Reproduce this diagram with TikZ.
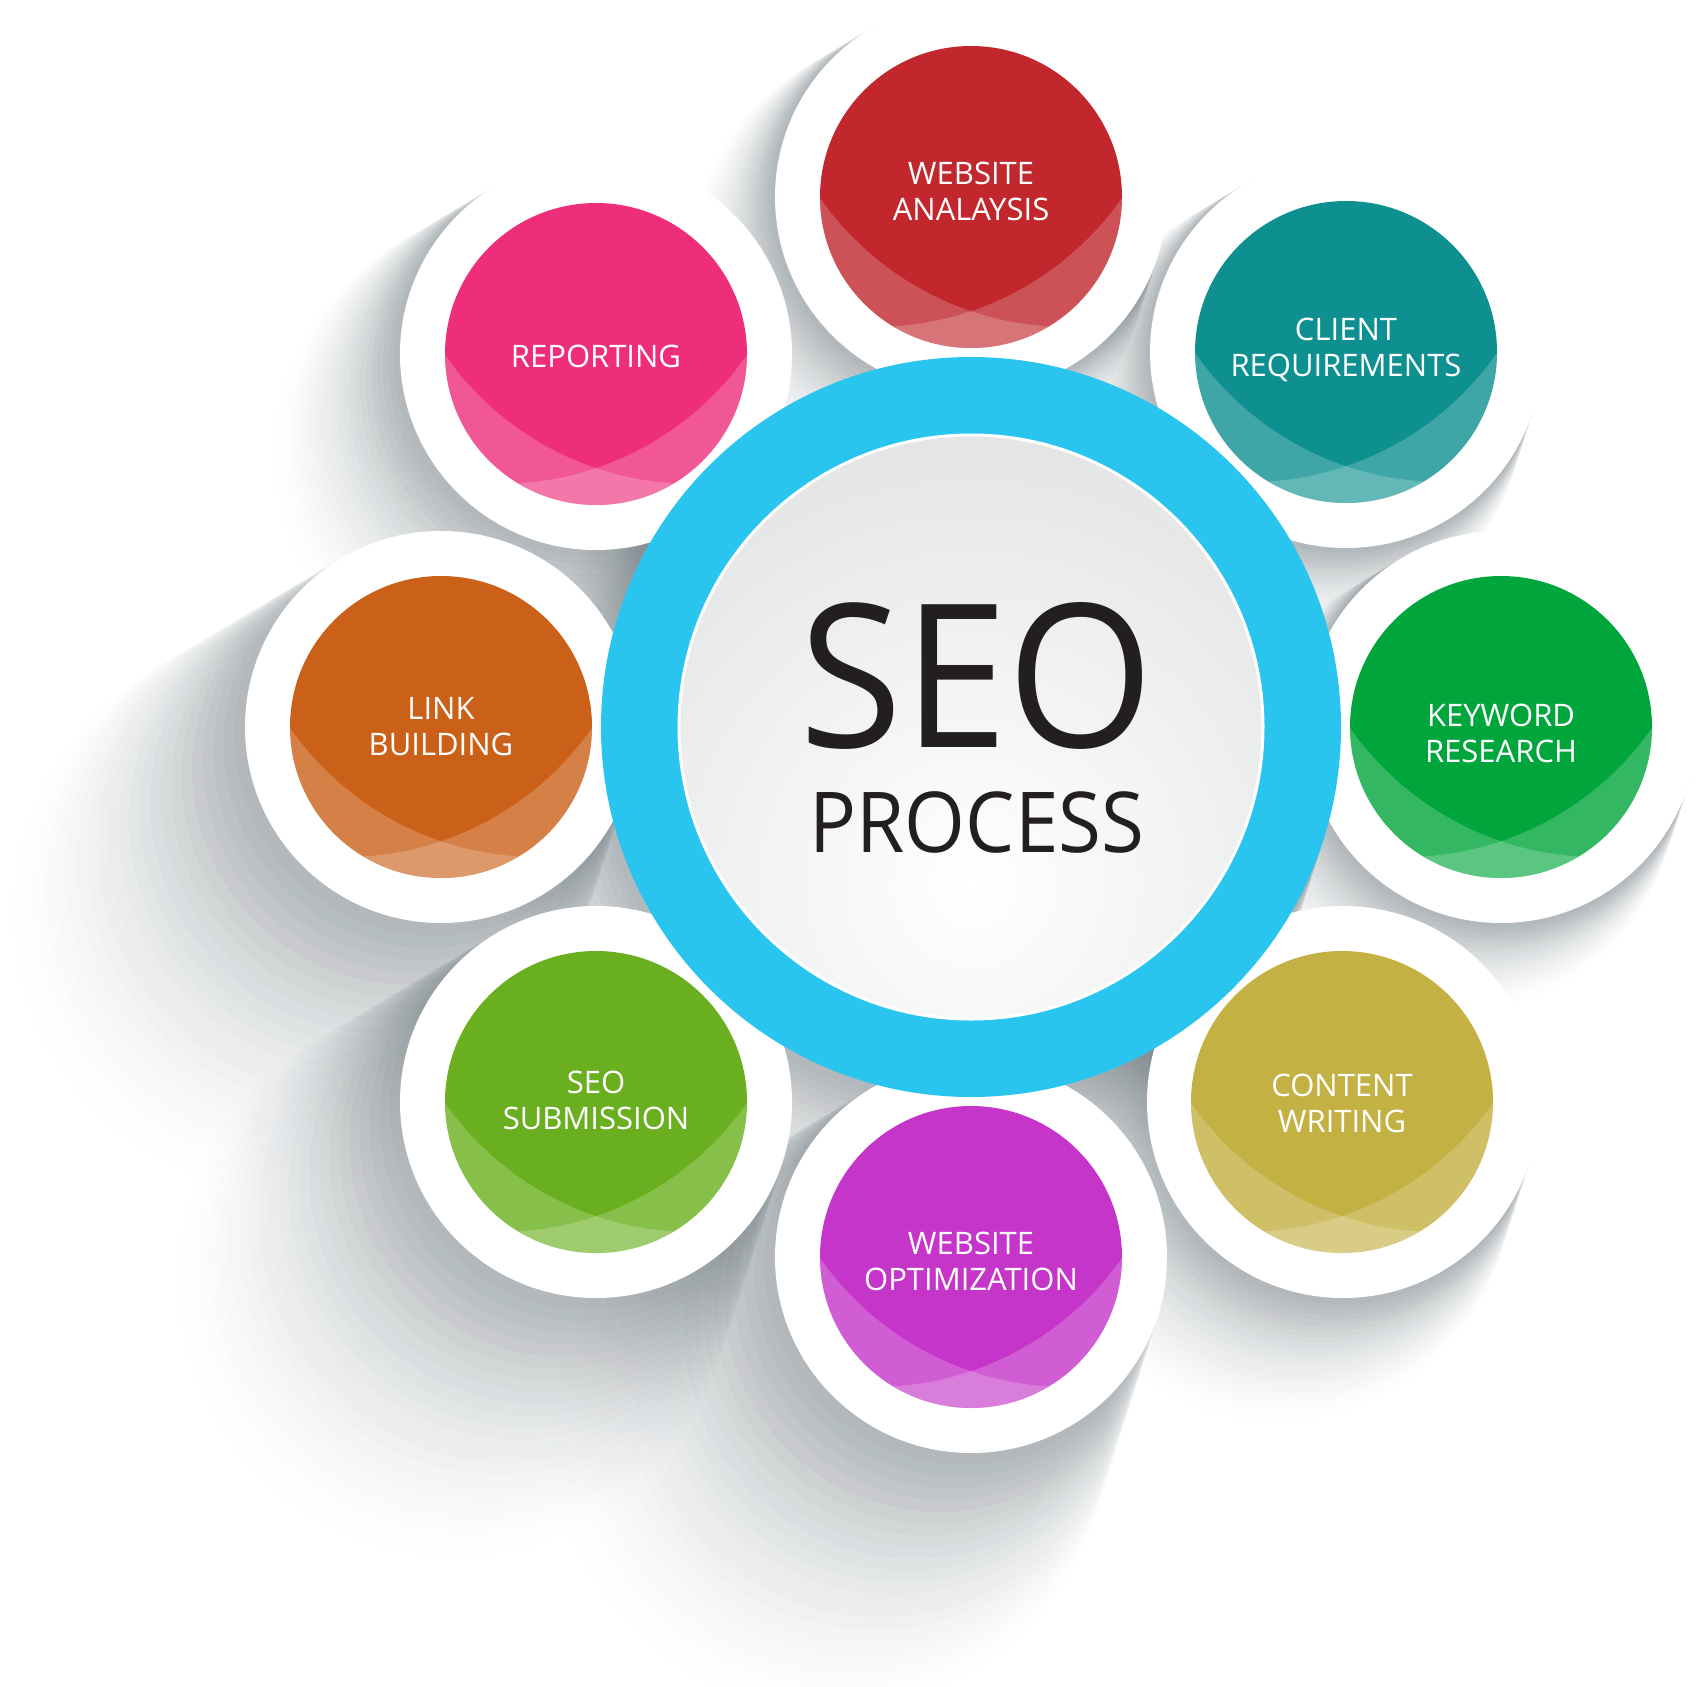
\documentclass[tikz,border=0pt]{standalone}
\usepackage{fontspec}
\setmainfont{Open Sans}
\usetikzlibrary{calc}
\definecolor{cred}{HTML}{C1272D}
\definecolor{cteal}{HTML}{0E9090}
\definecolor{cgreen}{HTML}{00A63C}
\definecolor{colive}{HTML}{C4B143}
\definecolor{cmagenta}{HTML}{C535C9}
\definecolor{clime}{HTML}{6AAF1F}
\definecolor{corange}{HTML}{CB6119}
\definecolor{cpink}{HTML}{EE2E7A}
\definecolor{cblue}{HTML}{29C5EF}
\definecolor{seodark}{HTML}{231F20}
\definecolor{discgray}{HTML}{CDD0D1}
\definecolor{shadowc}{RGB}{100,114,122}
\tikzset{
  lbl/.style={text=white, font=\fontsize{31}{36}\selectfont, align=center, inner sep=0pt},
  ringwhite/.style={fill=white},
}
% soft long shadow: #1 x, #2 y (down), #3 radius, #4 length factor
\newcommand\seoshadow[4]{%
  \foreach \k in {1,...,24}{
    \pgfmathsetmacro\op{0.06*(1-\k/25)^1.5}
    \pgfmathsetmacro\sx{-0.62*\k*9*#4}
    \pgfmathsetmacro\sy{-0.78*\k*9*#4}
    \pgfmathsetmacro\rr{#3+\k*3.2*#4}
    \fill[shadowc, opacity=\op] (#1+\sx,-#2+\sy) circle[radius=\rr];
  }
}
% #1 name, #2 x, #3 y (down), #4 colour, #5 text, #6 label offset (down)
\newcommand\seobubble[6]{%
  \coordinate (#1) at (#2,-#3);
  \fill[#4] (#1) circle[radius=151];
  \begin{scope}
    \clip (#1) circle[radius=151];
    \fill[white, opacity=0.2, even odd rule] ($(#1)+(-160,-160)$) rectangle ($(#1)+(160,160)$) ($(#1)+(96.6,172)$) circle[radius=302];
    \fill[white, opacity=0.2, even odd rule] ($(#1)+(-160,-160)$) rectangle ($(#1)+(160,160)$) ($(#1)+(-96.6,172)$) circle[radius=302];
  \end{scope}
  \node[lbl] (#1-t) at ($(#1)+(0,-#6)$) {#5};
}
\begin{document}
\begin{tikzpicture}[x=1pt,y=1pt]
\useasboundingbox (0,0) rectangle (1698,-1687);
\fill[white] (0,0) rectangle (1698,-1687);

% soft shadows cast towards the lower left
\seoshadow{971}{727}{370}{0.7}
\seoshadow{971}{197}{196}{0.45}
\seoshadow{1346}{352}{196}{0.4}
\seoshadow{1501}{727}{196}{0.4}
\seoshadow{1343}{1102}{196}{0.55}
\seoshadow{971}{1257}{196}{1.15}
\seoshadow{596}{1102}{196}{1.15}
\seoshadow{441}{727}{196}{1.2}
\seoshadow{596}{354}{196}{0.65}

% white rings
\foreach \p in {(971,-197),(1346,-352),(1501,-727),(1343,-1102),(971,-1257),(596,-1102),(441,-727),(596,-354)}{
  \fill[ringwhite] \p circle[radius=196];
}

% central disc
\coordinate (c0) at (971,-727);
\fill[cblue] (c0) circle[radius=370];
\begin{scope}
  \clip (c0) circle[radius=292];
  \shade[inner color=white, outer color=discgray] (973,-885) circle[radius=820];
\end{scope}
\draw[white, line width=3pt] (c0) circle[radius=292];
\node[font=\fontsize{200}{200}\selectfont, text=seodark, anchor=base, inner sep=0pt, xscale=0.94] (seo) at (977,-747) {SEO};
\node[font=\fontsize{84}{84}\selectfont, text=seodark, anchor=base, inner sep=0pt, xscale=0.93] (process) at (977,-852) {PROCESS};

% coloured bubbles
\seobubble{analysis}{971}{197}{cred}{WEBSITE\\ANALAYSIS}{-6}
\seobubble{client}{1346}{352}{cteal}{CLIENT\\REQUIREMENTS}{-2}
\seobubble{keyword}{1501}{727}{cgreen}{KEYWORD\\RESEARCH}{6}
\seobubble{content}{1342}{1102}{colive}{CONTENT\\WRITING}{1}
\seobubble{optim}{971}{1257}{cmagenta}{WEBSITE\\OPTIMIZATION}{4}
\seobubble{submission}{596}{1102}{clime}{SEO\\SUBMISSION}{-2}
\seobubble{link}{441}{727}{corange}{LINK\\BUILDING}{0}
\seobubble{reporting}{596}{354}{cpink}{REPORTING}{2}
\end{tikzpicture}
\end{document}
